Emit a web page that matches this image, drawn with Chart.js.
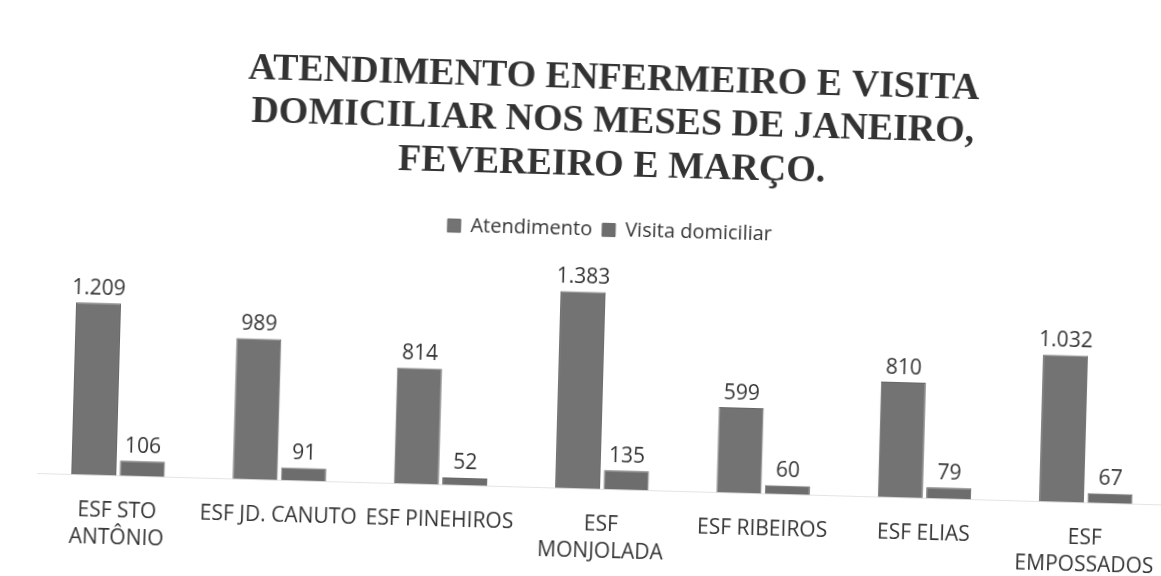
<!DOCTYPE html>
<html>
<head>
<meta charset="utf-8">
<script src="https://cdn.jsdelivr.net/npm/chart.js@4/dist/chart.umd.min.js"></script>
<style>
  html, body { margin: 0; padding: 0; background: #fff; overflow: hidden; }
  #wrap { width: 1161px; height: 576px; transform: translate(22px, 12px) rotate(1.6deg); transform-origin: 590px 300px; }
</style>
</head>
<body>
<div id="wrap"><canvas id="chart" width="1161" height="576"></canvas></div>
<script>
const categories = [
  ['ESF STO', 'ANTÔNIO'],
  'ESF JD. CANUTO',
  'ESF PINEHIROS',
  ['ESF', 'MONJOLADA'],
  'ESF RIBEIROS',
  'ESF ELIAS',
  ['ESF', 'EMPOSSADOS']
];
const atendimento = [1209, 989, 814, 1383, 599, 810, 1032];
const visitaDomiciliar = [106, 91, 52, 135, 60, 79, 67];

const textColor = '#353535';
const labelFont = '"Open Sans", "Noto Sans", sans-serif';

// rótulos de valor acima das barras, formato pt-BR (1.209)
const valueLabels = {
  id: 'valueLabels',
  afterDatasetsDraw(chart) {
    const ctx = chart.ctx;
    ctx.save();
    ctx.fillStyle = textColor;
    ctx.font = '21px ' + labelFont;
    ctx.textAlign = 'center';
    ctx.textBaseline = 'bottom';
    chart.data.datasets.forEach((ds, i) => {
      chart.getDatasetMeta(i).data.forEach((bar, j) => {
        ctx.fillText(ds.data[j].toLocaleString('pt-BR'), bar.x, bar.y - 4);
      });
    });
    ctx.restore();
  }
};

new Chart(document.getElementById('chart'), {
  type: 'bar',
  data: {
    labels: categories,
    datasets: [
      { label: 'Atendimento', data: atendimento, backgroundColor: '#737373', borderColor: '#666', borderWidth: 1 },
      { label: 'Visita domiciliar', data: visitaDomiciliar, backgroundColor: '#6d6d6d', borderColor: '#666', borderWidth: 1 }
    ]
  },
  options: {
    responsive: false,
    animation: false,
    layout: { padding: { left: 20, right: 10, bottom: 0 } },
    datasets: { bar: { categoryPercentage: 0.6, barPercentage: 0.93 } },
    plugins: {
      title: {
        display: true,
        text: ['ATENDIMENTO ENFERMEIRO E VISITA', 'DOMICILIAR NOS MESES DE JANEIRO,', 'FEVEREIRO E MARÇO.'],
        color: '#333',
        font: { family: '"Liberation Serif", "DejaVu Serif", serif', size: 38, weight: 'bold', lineHeight: 1.15 },
        padding: { top: 45, bottom: 22 }
      },
      legend: {
        labels: {
          color: textColor,
          font: { family: labelFont, size: 20 },
          boxWidth: 13, boxHeight: 13
        }
      },
      tooltip: { enabled: false }
    },
    scales: {
      x: {
        grid: { display: false, drawTicks: false },
        border: { color: '#e4e4e4' },
        ticks: {
          color: textColor,
          font: { family: labelFont, size: 21, lineHeight: 1.3 },
          padding: 22, maxRotation: 0, autoSkip: false
        }
      },
      y: {
        display: false,
        min: 0,
        max: 1680
      }
    }
  },
  plugins: [valueLabels]
});
</script>
</body>
</html>
